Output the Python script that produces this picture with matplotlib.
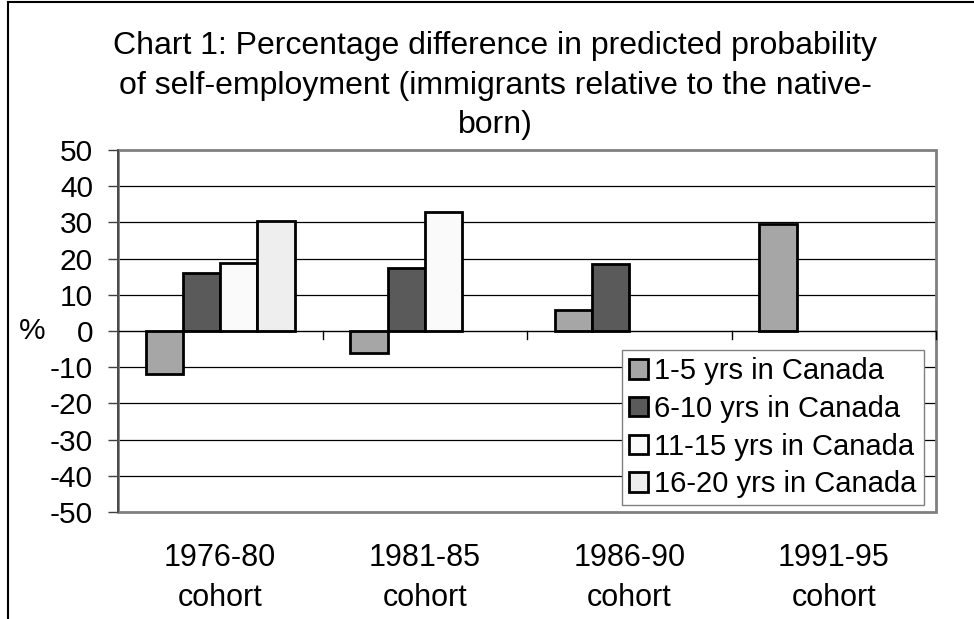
import numpy as np
import matplotlib
matplotlib.use("Agg")
import matplotlib.pyplot as plt
from matplotlib.patches import Rectangle
from matplotlib.lines import Line2D

plt.rcParams['font.family'] = ['Liberation Sans', 'DejaVu Sans']
plt.rcParams['axes.unicode_minus'] = False

# data
cohorts = ['1976-80\ncohort', '1981-85\ncohort', '1986-90\ncohort', '1991-95\ncohort']
series = ['1-5 yrs in Canada', '6-10 yrs in Canada', '11-15 yrs in Canada', '16-20 yrs in Canada']
yrs_1_5 = [-12.0, -6.1, 5.8, 29.6]
yrs_6_10 = [15.9, 17.5, 18.4, np.nan]
yrs_11_15 = [18.9, 33.0, np.nan, np.nan]
yrs_16_20 = [30.5, np.nan, np.nan, np.nan]
values = [yrs_1_5, yrs_6_10, yrs_11_15, yrs_16_20]
colors = ['#a6a6a6', '#5a5a5a', '#fafafa', '#eeeeee']

W, H = 974, 619
FS = 21.5
fig = plt.figure(figsize=(W / 100, H / 100), dpi=100)
ax = fig.add_axes([118 / W, 1 - 512 / H, (936 - 118) / W, (512 - 150) / H])

x = np.arange(len(cohorts))
bw = 0.182
for k, (vals, c) in enumerate(zip(values, colors)):
    off = (k - 1.5) * bw
    for i, v in enumerate(vals):
        if np.isnan(v):
            continue
        ax.bar(x[i] + off, v, width=bw, color=c, edgecolor='black', linewidth=2, zorder=3)

ax.set_xlim(-0.5, 3.5)
ax.set_ylim(-50, 50)
ax.set_yticks(np.arange(-50, 51, 10))
ax.tick_params(axis='y', direction='out', length=7, width=1, colors='#404040',
               labelsize=FS, labelcolor='black', pad=11)

# gridlines
for g in np.arange(-40, 50, 10):
    if g != 0:
        ax.axhline(g, color='black', linewidth=0.9, zorder=1)

# spines: plot area frame gray, left axis dark, category axis at zero
for s in ['top', 'right', 'bottom']:
    ax.spines[s].set_visible(False)
ax.add_patch(Rectangle((0, 0), 1, 1, transform=ax.transAxes, fill=False,
                       edgecolor='#808080', linewidth=2, zorder=2, clip_on=False))
ax.spines['left'].set_color('#404040')
ax.spines['left'].set_linewidth(1.2)
ax.spines['left'].set_zorder(4)
ax.axhline(0, color='black', linewidth=1, zorder=4)
for b in [0.5, 1.5, 2.5, 3.5]:
    ax.plot([b, b], [0, -2.3], color='black', linewidth=1, zorder=4, clip_on=False)

ax.set_xticks([])
for i, lab in enumerate(cohorts):
    ax.text(x[i], -0.085, lab, transform=ax.get_xaxis_transform(), ha='center', va='top',
            fontsize=22, linespacing=1.45)

fig.text(32 / W, 1 - 331 / H, '%', fontsize=FS, ha='center', va='center')

fig.text(495 / W, 1 - 31 / H,
         'Chart 1: Percentage difference in predicted probability\n'
         'of self-employment (immigrants relative to the native-\nborn)',
         ha='center', va='top', fontsize=23, linespacing=1.42)

handles = [Rectangle((0, 0), 1, 1, facecolor=c, edgecolor='black', linewidth=2) for c in colors]
leg = ax.legend(handles, series, loc='upper left', bbox_to_anchor=(622 / W, 1 - 350 / H),
                bbox_transform=fig.transFigure, borderaxespad=0, fontsize=21, frameon=True,
                fancybox=False, edgecolor='#808080', framealpha=1, handlelength=0.65,
                handleheight=0.65, handletextpad=0.2, labelspacing=0.33, borderpad=0.25)
leg.get_frame().set_linewidth(1)
leg.set_zorder(5)

# outer chart border (top and left edges visible in the crop)
fig.add_artist(Line2D([8 / W, 8 / W], [0, 1 - 2 / H], color='black', linewidth=1.5))
fig.add_artist(Line2D([8 / W, 1], [1 - 2 / H, 1 - 2 / H], color='black', linewidth=1.5))

fig.savefig('out.png', dpi=100)
